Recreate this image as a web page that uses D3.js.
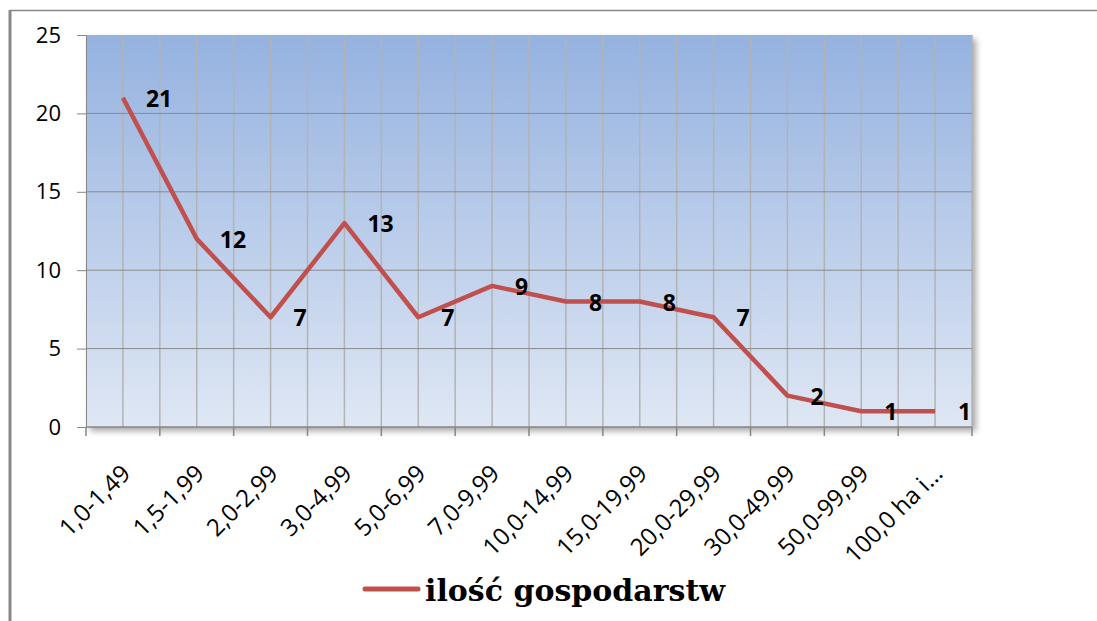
<!DOCTYPE html>
<html>
<head>
<meta charset="utf-8">
<script src="https://cdn.jsdelivr.net/npm/d3@7"></script>
<style>
  body { margin: 0; background: #fff; }
  svg { display: block; }
</style>
</head>
<body>
<script>
// data
var categories = ["1,0-1,49", "1,5-1,99", "2,0-2,99", "3,0-4,99", "5,0-6,99", "7,0-9,99",
  "10,0-14,99", "15,0-19,99", "20,0-29,99", "30,0-49,99", "50,0-99,99", "100,0 ha i\u2026"];
var values = [21, 12, 7, 13, 7, 9, 8, 8, 7, 2, 1, 1];
var yTicks = [0, 5, 10, 15, 20, 25];
var seriesName = "ilość gospodarstw";

var width = 1097, height = 621;
var margin = {top: 35, right: 125, bottom: 194, left: 86};

var svg = d3.select("body").append("svg")
    .attr("width", width)
    .attr("height", height);

var defs = svg.append("defs");
var grad = defs.append("linearGradient")
    .attr("id", "bg")
    .attr("x1", 0).attr("y1", 0).attr("x2", 0).attr("y2", 1);
grad.append("stop").attr("offset", "0%").attr("stop-color", "#95b2e0");
grad.append("stop").attr("offset", "100%").attr("stop-color", "#dfe7f4");

var shadow = defs.append("filter").attr("id", "shadow")
    .attr("x", "-5%").attr("y", "-5%").attr("width", "115%").attr("height", "115%");
shadow.append("feDropShadow")
    .attr("dx", 4).attr("dy", 4).attr("stdDeviation", 3)
    .attr("flood-color", "#000").attr("flood-opacity", 0.35);

// frame of the surrounding document
svg.append("line")
    .attr("x1", 10).attr("x2", width).attr("y1", 10.5).attr("y2", 10.5)
    .attr("stroke", "#888").attr("stroke-width", 1.5);
svg.append("line")
    .attr("x1", 10).attr("x2", 10).attr("y1", 10).attr("y2", height)
    .attr("stroke", "#888").attr("stroke-width", 3);

var x = d3.scaleBand()
    .domain(categories)
    .range([margin.left, width - margin.right])
    .padding(0);

var y = d3.scaleLinear()
    .domain([0, 25])
    .range([height - margin.bottom, margin.top]);

var bw = x.bandwidth();
var x0 = margin.left, x1 = width - margin.right;
var yb = y(0), yt = y(25);

// plot area
svg.append("rect")
    .attr("x", x0).attr("y", yt)
    .attr("width", x1 - x0).attr("height", yb - yt)
    .attr("fill", "url(#bg)")
    .attr("filter", "url(#shadow)");

// vertical gridlines at band centres and band edges
var vlines = [];
categories.forEach(function(c, i) {
  vlines.push(x(c) + bw / 2);
  if (i > 0) vlines.push(x(c));
});
svg.append("g")
  .selectAll("line")
  .data(vlines)
  .join("line")
    .attr("x1", d => d).attr("x2", d => d)
    .attr("y1", yt).attr("y2", yb)
    .attr("stroke", "#b3b3b3")
    .attr("stroke-width", 1.5);
svg.append("line")
    .attr("x1", x1).attr("x2", x1).attr("y1", yt).attr("y2", yb)
    .attr("stroke", "#b3b3b3").attr("stroke-width", 1.5);

// horizontal gridlines
svg.append("g")
  .selectAll("line")
  .data(yTicks.filter(d => d > 0 && d < 25))
  .join("line")
    .attr("x1", x0).attr("x2", x1)
    .attr("y1", d => y(d)).attr("y2", d => y(d))
    .attr("stroke", "#8a8a8a")
    .attr("stroke-width", 1);

// y axis
var yAxis = svg.append("g")
    .attr("transform", `translate(${x0},0)`)
    .call(d3.axisLeft(y).tickValues(yTicks).tickSize(9).tickPadding(16));
yAxis.select(".domain").attr("stroke", "#868686");
yAxis.selectAll(".tick line").attr("stroke", "#868686");
yAxis.selectAll("text")
    .attr("font-family", "'Open Sans', sans-serif")
    .attr("font-size", 22)
    .attr("fill", "#000");

// x axis: line, ticks on band edges, rotated labels
svg.append("line")
    .attr("x1", x0).attr("x2", x1).attr("y1", yb).attr("y2", yb)
    .attr("stroke", "#868686").attr("stroke-width", 1.5);
svg.append("g")
  .selectAll("line")
  .data(categories.map(c => x(c)).concat([x1]))
  .join("line")
    .attr("x1", d => d).attr("x2", d => d)
    .attr("y1", yb).attr("y2", yb + 9)
    .attr("stroke", "#868686").attr("stroke-width", 1.5);

svg.append("g")
  .selectAll("text")
  .data(categories)
  .join("text")
    .attr("transform", d => `translate(${x(d) + bw / 2 + 9},${yb + 48}) rotate(-45)`)
    .attr("text-anchor", "end")
    .attr("font-family", "'Open Sans', sans-serif")
    .attr("font-size", 24)
    .attr("fill", "#000")
    .text(d => d);

// the line
var line = d3.line()
    .x((d, i) => x(categories[i]) + bw / 2)
    .y(d => y(d));

svg.append("path")
    .datum(values)
    .attr("d", line)
    .attr("fill", "none")
    .attr("stroke", "#c0504d")
    .attr("stroke-width", 4.5)
    .attr("stroke-linejoin", "round");

// value labels
svg.append("g")
  .selectAll("text")
  .data(values)
  .join("text")
    .attr("x", (d, i) => x(categories[i]) + bw / 2 + 23)
    .attr("y", d => y(d) + 9)
    .attr("font-family", "'Open Sans', sans-serif")
    .attr("font-weight", "bold")
    .attr("font-size", 23)
    .attr("fill", "#000")
    .text(d => d);

// legend
svg.append("line")
    .attr("x1", 365).attr("x2", 418)
    .attr("y1", 589).attr("y2", 589)
    .attr("stroke", "#c0504d")
    .attr("stroke-width", 5)
    .attr("stroke-linecap", "round");
svg.append("text")
    .attr("x", 425).attr("y", 601)
    .attr("font-family", "'DejaVu Serif', serif")
    .attr("font-weight", "bold")
    .attr("font-size", 30)
    .attr("fill", "#000")
    .text(seriesName);
</script>
</body>
</html>
